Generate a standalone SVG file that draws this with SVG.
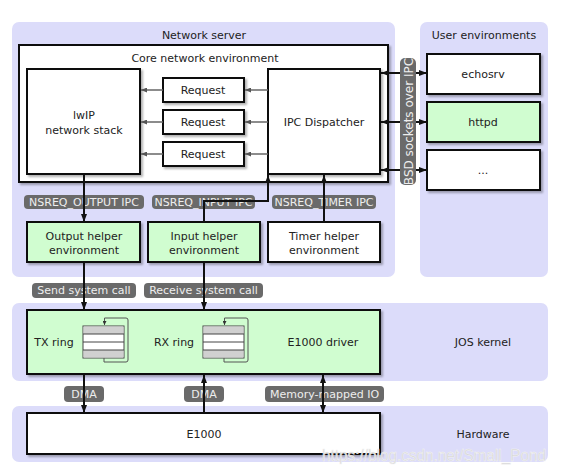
<svg xmlns="http://www.w3.org/2000/svg" width="563" height="474" viewBox="0 0 563 474">
<defs>
<style>
text{font-family:"DejaVu Sans","Liberation Sans",sans-serif;font-size:11px;fill:#222;text-anchor:middle;dominant-baseline:central}
.panel{fill:#dcdcfa}
.box{fill:#fff;stroke:#111;stroke-width:2;filter:url(#sh)}
.green{fill:#d0fdd0}
.pill{fill:#6a6a6a}
.pt{fill:#eeeeee}
.con{fill:none;stroke:#111;stroke-width:2}
.gcon{fill:none;stroke:#666;stroke-width:1.5}
.ring{fill:#fff;stroke:#444;stroke-width:1}
.rg{fill:#d0d0d0}
.loop{fill:none;stroke:#555;stroke-width:1}
.wm{font-family:"Liberation Sans",sans-serif;font-size:17px;fill:#d4d4d4;stroke:#f4f4f4;stroke-width:0.5;text-anchor:start;dominant-baseline:auto}
</style>
<filter id="sh" x="-10%" y="-10%" width="130%" height="130%">
<feDropShadow dx="2" dy="2" stdDeviation="1" flood-color="#000" flood-opacity="0.3"/>
</filter>
<marker id="ah" viewBox="0 0 8 6" refX="8" refY="3" markerWidth="8" markerHeight="6" markerUnits="userSpaceOnUse" orient="auto-start-reverse">
<path d="M0,0 L8,3 L0,6 z" fill="#111"/>
</marker>
<marker id="gah" viewBox="0 0 6 5" refX="6" refY="2.5" markerWidth="6" markerHeight="5" markerUnits="userSpaceOnUse" orient="auto">
<path d="M0,0 L6,2.5 L0,5 z" fill="#555"/>
</marker>
<marker id="sah" viewBox="0 0 4 4" refX="4" refY="2" markerWidth="4" markerHeight="4" markerUnits="userSpaceOnUse" orient="auto">
<path d="M0,0 L4,2 L0,4 z" fill="#333"/>
</marker>
</defs>

<g id="panel-network-server">
<rect class="panel" x="12" y="22" width="383" height="255" rx="7"/>
<text x="204" y="35">Network server</text>
</g>
<g id="panel-user-envs">
<rect class="panel" x="420" y="22" width="128" height="255" rx="7"/>
<text x="484" y="35">User environments</text>
</g>
<g id="panel-jos-kernel">
<rect class="panel" x="12" y="303" width="536" height="78" rx="7"/>
<text x="483" y="342">JOS kernel</text>
</g>
<g id="panel-hardware">
<rect class="panel" x="12" y="406" width="536" height="56" rx="7"/>
<text x="483" y="434">Hardware</text>
</g>

<g id="core-network-env">
<rect class="box" x="19" y="45" width="369" height="137"/>
<text x="205" y="58">Core network environment</text>
</g>
<g id="lwip">
<rect class="box" x="27" y="69" width="113" height="105"/>
<text x="84" y="115">lwIP</text>
<text x="84" y="130">network stack</text>
</g>
<g id="request1">
<rect class="box" x="163" y="78" width="81" height="24"/>
<text x="203" y="90">Request</text>
</g>
<g id="request2">
<rect class="box" x="163" y="110" width="81" height="24"/>
<text x="203" y="122">Request</text>
</g>
<g id="request3">
<rect class="box" x="163" y="142" width="81" height="24"/>
<text x="203" y="154">Request</text>
</g>
<g id="ipc-dispatcher">
<rect class="box" x="268" y="69" width="112" height="105"/>
<text x="324" y="122">IPC Dispatcher</text>
</g>

<g id="echosrv">
<rect class="box" x="427" y="54" width="113" height="40"/>
<text x="483" y="74">echosrv</text>
</g>
<g id="httpd">
<rect class="box green" x="427" y="102" width="113" height="40"/>
<text x="483" y="122">httpd</text>
</g>
<g id="more-envs">
<rect class="box" x="427" y="150" width="113" height="40"/>
<text x="483" y="170">...</text>
</g>

<g id="output-helper">
<rect class="box green" x="27" y="222" width="113" height="40"/>
<text x="84" y="236">Output helper</text>
<text x="84" y="250">environment</text>
</g>
<g id="input-helper">
<rect class="box green" x="148" y="222" width="112" height="40"/>
<text x="204" y="236">Input helper</text>
<text x="204" y="250">environment</text>
</g>
<g id="timer-helper">
<rect class="box" x="268" y="222" width="112" height="40"/>
<text x="324" y="236">Timer helper</text>
<text x="324" y="250">environment</text>
</g>

<g id="e1000-driver">
<rect class="box green" x="27" y="310" width="353" height="64"/>
<text x="54" y="342">TX ring</text>
<text x="174" y="342">RX ring</text>
<text x="323" y="342">E1000 driver</text>
<g id="tx-ring">
<rect class="ring" x="83" y="326" width="41" height="32"/>
<rect class="rg" x="83.5" y="326.5" width="40" height="7.5"/>
<rect class="rg" x="83.5" y="350" width="40" height="7.5"/>
<path d="M83 334 H124 M83 342 H124 M83 350 H124" stroke="#444" stroke-width="1"/>
<path class="loop" d="M104 358 V362 H126 Q128 362 128 360 V320 Q128 318 126 318 H104.5 V325" marker-end="url(#sah)"/>
</g>
<g id="rx-ring">
<rect class="ring" x="203" y="326" width="41" height="32"/>
<rect class="rg" x="203.5" y="326.5" width="40" height="7.5"/>
<rect class="rg" x="203.5" y="350" width="40" height="7.5"/>
<path d="M203 334 H244 M203 342 H244 M203 350 H244" stroke="#444" stroke-width="1"/>
<path class="loop" d="M224 358 V362 H246 Q248 362 248 360 V320 Q248 318 246 318 H224.5 V325" marker-end="url(#sah)"/>
</g>
</g>

<g id="e1000">
<rect class="box" x="27" y="413" width="353" height="41"/>
<text x="204" y="434">E1000</text>
</g>

<g id="labels">
<rect class="pill" x="24" y="195" width="120" height="14" rx="4"/>
<text class="pt" x="84" y="202">NSREQ_OUTPUT IPC</text>
<rect class="pill" x="152" y="195" width="103" height="14" rx="4"/>
<text class="pt" x="203.5" y="202">NSREQ_INPUT IPC</text>
<rect class="pill" x="272" y="195" width="104" height="14" rx="4"/>
<text class="pt" x="324" y="202">NSREQ_TIMER IPC</text>
<rect class="pill" x="32" y="283" width="104" height="15" rx="4"/>
<text class="pt" x="84" y="290">Send system call</text>
<rect class="pill" x="144" y="283" width="119" height="15" rx="4"/>
<text class="pt" x="203.5" y="290">Receive system call</text>
<rect class="pill" x="64" y="386" width="40" height="16" rx="4"/>
<text class="pt" x="84" y="394">DMA</text>
<rect class="pill" x="184" y="386" width="40" height="16" rx="4"/>
<text class="pt" x="204" y="394">DMA</text>
<rect class="pill" x="265" y="386" width="119" height="16" rx="4"/>
<text class="pt" x="324.5" y="394">Memory-mapped IO</text>
</g>

<g id="connectors">
<path class="gcon" d="M268 90 H245" marker-end="url(#gah)"/>
<path class="gcon" d="M268 122 H245" marker-end="url(#gah)"/>
<path class="gcon" d="M268 154 H245" marker-end="url(#gah)"/>
<path class="gcon" d="M163 90 H141" marker-end="url(#gah)"/>
<path class="gcon" d="M163 122 H141" marker-end="url(#gah)"/>
<path class="gcon" d="M163 154 H141" marker-end="url(#gah)"/>
<path class="con" d="M381 73 H427" marker-start="url(#ah)" marker-end="url(#ah)"/>
<path class="con" d="M381 122 H427" marker-start="url(#ah)" marker-end="url(#ah)"/>
<path class="con" d="M381 170 H427" marker-start="url(#ah)" marker-end="url(#ah)"/>
<path class="con" d="M84 175 V222" marker-end="url(#ah)"/>
<path class="con" d="M204 222 V201 H268 V175" marker-end="url(#ah)"/>
<path class="con" d="M324 222 V175" marker-end="url(#ah)"/>
<path class="con" d="M84 263 V310" marker-end="url(#ah)"/>
<path class="con" d="M204 263 V310" marker-end="url(#ah)"/>
<path class="con" d="M84 375 V413" marker-end="url(#ah)"/>
<path class="con" d="M204 413 V375" marker-end="url(#ah)"/>
<path class="con" d="M323 375 V413" marker-start="url(#ah)" marker-end="url(#ah)"/>
</g>

<g id="bsd-label">
<rect class="pill" x="400" y="58" width="16" height="127" rx="5"/>
<text class="pt" style="font-size:12px" transform="translate(408.5 121.5) rotate(-90)" x="0" y="0">BSD sockets over IPC</text>
</g>

<text class="wm" x="322" y="461" textLength="224" lengthAdjust="spacingAndGlyphs">https://blog.csdn.net/Small_Pond</text>
</svg>
